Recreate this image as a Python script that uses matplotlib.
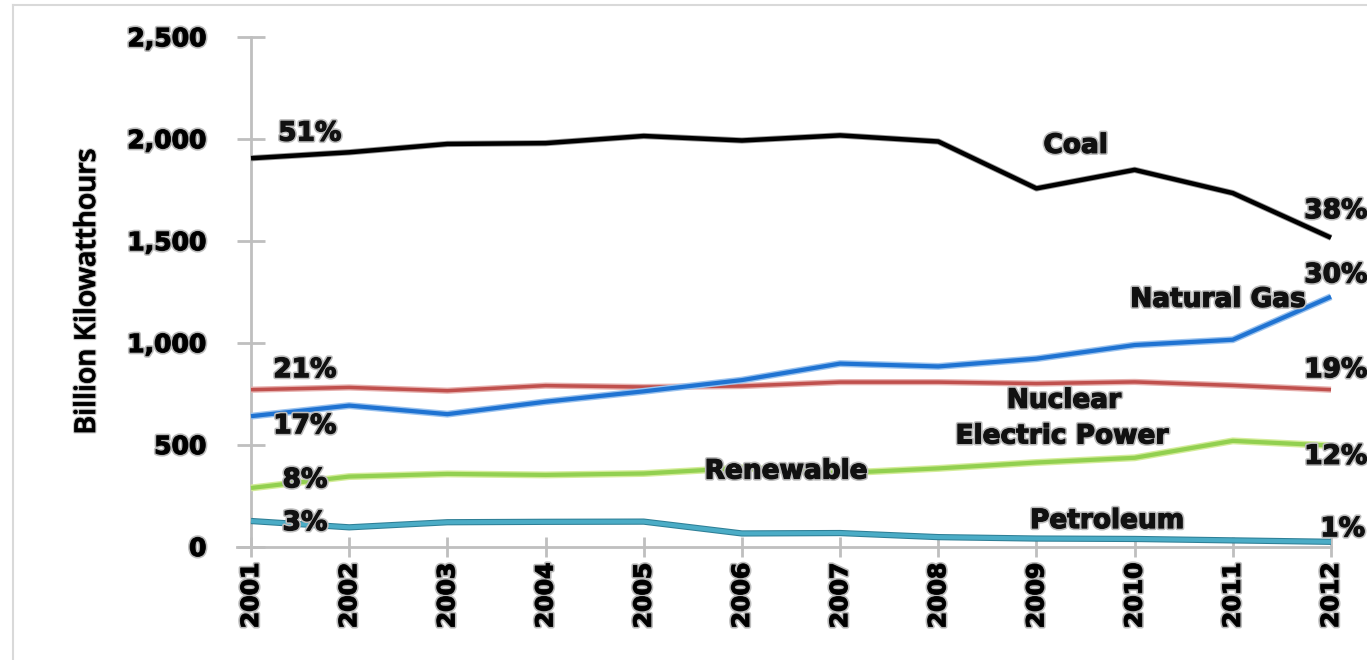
import matplotlib
matplotlib.use("Agg")
import matplotlib.pyplot as plt
import matplotlib.patheffects as pe
from matplotlib.lines import Line2D

years = [2001, 2002, 2003, 2004, 2005, 2006, 2007, 2008, 2009, 2010, 2011, 2012]
coal = [1904, 1933, 1974, 1978, 2013, 1991, 2016, 1986, 1756, 1847, 1733, 1514]
natural_gas = [639, 691, 649, 710, 761, 816, 897, 883, 921, 988, 1014, 1225]
nuclear = [769, 780, 764, 789, 782, 787, 806, 806, 799, 807, 790, 769]
renewable = [287, 343, 356, 351, 358, 385, 360, 383, 412, 435, 518, 495]
petroleum = [125, 94, 119, 121, 122, 64, 66, 46, 39, 37, 30, 23]

y_ticks = [0, 500, 1000, 1500, 2000, 2500]
y_tick_labels = ["0", "500", "1,000", "1,500", "2,000", "2,500"]

# (text, x in years, y in kWh) for the annotations
share_labels = [
    ("51%", 2001.6, 2025), ("38%", 2012.05, 1645),
    ("21%", 2001.55, 865), ("17%", 2001.55, 590),
    ("30%", 2012.05, 1330), ("19%", 2012.05, 865),
    ("8%", 2001.55, 325), ("12%", 2012.05, 440),
    ("3%", 2001.55, 115), ("1%", 2012.12, 85),
]
series_labels = [
    ("Coal", 2009.4, 1965), ("Natural Gas", 2010.85, 1210),
    ("Nuclear", 2009.28, 715), ("Electric Power", 2009.26, 540),
    ("Renewable", 2006.45, 368), ("Petroleum", 2009.72, 125),
]

fig = plt.figure(figsize=(13.67, 6.6), dpi=100)
ax = fig.add_axes([251 / 1367, 113.5 / 660, (1331 - 251) / 1367, (546.5 - 36.7) / 660])

halo = lambda c, w: [pe.Stroke(linewidth=w, foreground=c), pe.Normal()]

ax.plot(years, petroleum, color="#4bacc6", lw=3, clip_on=False, solid_capstyle="butt",
        path_effects=halo("#2e7f96", 4.5), zorder=3)
ax.plot(years, renewable, color="#92d050", lw=3, clip_on=False, solid_capstyle="butt",
        path_effects=halo("#d4ec9a", 5), zorder=3)
ax.plot(years, nuclear, color="#c0504d", lw=2.5, clip_on=False, solid_capstyle="butt",
        path_effects=halo("#e6b0ae", 4.5), zorder=3)
ax.plot(years, natural_gas, color="#1f73d2", lw=3, clip_on=False, solid_capstyle="butt",
        path_effects=halo("#9cc3ee", 5), zorder=4)
ax.plot(years, coal, color="black", lw=3.2, clip_on=False, solid_capstyle="butt",
        path_effects=halo("#9a9a9a", 4.5), zorder=5)

ax.set_xlim(2001, 2012)
ax.set_ylim(0, 2500)
ax.set_xticks(years)
ax.set_xticklabels([str(y) for y in years], rotation=90, fontsize=17, fontweight="bold",
                   family="DejaVu Sans")
ax.set_yticks(y_ticks)
ax.set_yticklabels(y_tick_labels, fontsize=18, fontweight="bold", family="DejaVu Sans")

# heavy glyphs with a soft grey rim
text_fx = [pe.Stroke(linewidth=3.2, foreground="#bdbdbd"),
           pe.Stroke(linewidth=0.9, foreground="#111111"),
           pe.Normal()]
for lab in ax.get_xticklabels() + ax.get_yticklabels():
    lab.set_path_effects(text_fx)

axis_grey = "#bfbfbf"
for side in ("top", "right"):
    ax.spines[side].set_visible(False)
for side in ("left", "bottom"):
    ax.spines[side].set_color(axis_grey)
    ax.spines[side].set_linewidth(2)
ax.tick_params(axis="y", direction="inout", length=20, width=2, color=axis_grey, pad=22)
ax.tick_params(axis="x", direction="inout", length=15, width=2, color=axis_grey, pad=4)
ax.spines["bottom"].set_bounds(2001 - 14 / 98, 2012)

ax.set_ylabel("Billion Kilowatthours", fontsize=20.5, family="Open Sans", fontweight="semibold")
ax.yaxis.set_label_coords(-0.138, 0.5)
ax.yaxis.label.set_path_effects([pe.Stroke(linewidth=2.2, foreground="#c8c8c8"),
                                 pe.Stroke(linewidth=0.6, foreground="#111111"),
                                 pe.Normal()])

for txt, x, y in share_labels + series_labels:
    ax.text(x, y, txt, fontsize=19, fontweight="bold", family="DejaVu Sans",
            ha="center", va="center", color="#111111", path_effects=text_fx, zorder=6,
            clip_on=False)

# outer frame (top and left edges)
fig.add_artist(Line2D([13 / 1367, 1.0], [1 - 5 / 660, 1 - 5 / 660], transform=fig.transFigure,
                      color="#d9d9d9", lw=1.5))
fig.add_artist(Line2D([13 / 1367, 13 / 1367], [0.0, 1 - 5 / 660], transform=fig.transFigure,
                      color="#d9d9d9", lw=1.5))

fig.savefig("out.png", dpi=100)
